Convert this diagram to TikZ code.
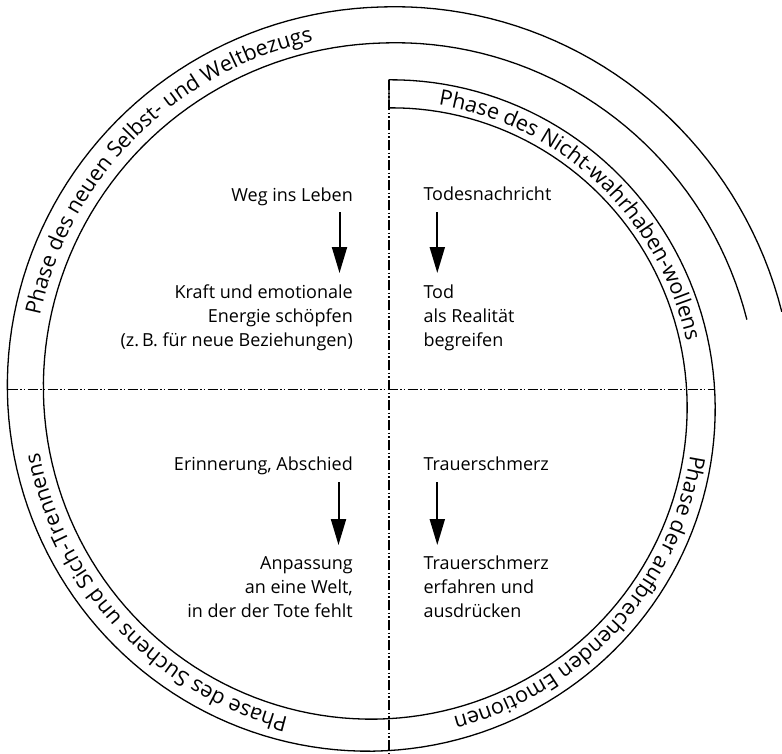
\documentclass[tikz,border=0pt]{standalone}
\usepackage{fontspec}
\setmainfont{Open Sans}
\usetikzlibrary{decorations.text,arrows.meta}
\newcommand\bandfont{\fontsize{21.5}{21.5}\selectfont}
\pgfmathdeclarefunction{spo}{1}{\pgfmathparse{317.25+18.25*#1/90+6*max(0,#1/90-4)}}
\pgfmathdeclarefunction{spi}{1}{\pgfmathparse{289.25+16.25*#1/90+6*max(0,#1/90-4)}}
\pgfmathdeclarefunction{spb}{1}{\pgfmathparse{303.25+17.25*#1/90-7.5}}
\begin{document}
\begin{tikzpicture}[x=1pt,y=1pt,
  edge/.style={line width=1.3pt,line join=round},
  axisline/.style={line width=1.1pt,dash pattern=on 10pt off 2.5pt on 1.5pt off 2pt on 1.5pt off 2.5pt},
  arr/.style={line width=2pt,-{Triangle[length=26pt,width=15pt]}},
  lbl/.style={inner sep=0pt,font=\fontsize{18}{24}\selectfont},
  bandtext/.style={decorate,decoration={text along path,text align=center,
     text={|\bandfont|#1}}}
]
\useasboundingbox (0,0) rectangle (782,-753);
% spiral band
\draw[edge] plot[domain=438:1.49,samples=220,variable=\t]
   ({381.5+spi(\t)*sin(\t)},{-397.25+spi(\t)*cos(\t)})
 -- plot[domain=1.72:438,samples=220,variable=\t]
   ({379.5+spo(\t)*sin(\t)},{-397.25+spo(\t)*cos(\t)});
% axes
\coordinate (hl) at (7.5,-389.5);
\coordinate (hr) at (715,-389.5);
\coordinate (vt) at (389,-80);
\coordinate (vb) at (389,-753);
\draw[axisline] (hl) -- (hr);
\draw[axisline] (vt) -- (vb);
% band texts
\path[bandtext={Phase des neuen Selbst- und Weltbezugs}] plot[domain=266:366,samples=100,variable=\t]
   ({380.5+spb(\t)*sin(\t)},{-397.25+spb(\t)*cos(\t)});
\path[bandtext={Phase des Nicht-wahrhaben-wollens}] plot[domain=-5:95,samples=100,variable=\t]
   ({380.5+spb(\t)*sin(\t)},{-397.25+spb(\t)*cos(\t)});
\path[bandtext={Phase der aufbrechenden Emotionen}] plot[domain=83.5:183.5,samples=100,variable=\t]
   ({380.5+spb(\t)*sin(\t)},{-397.25+spb(\t)*cos(\t)});
\path[bandtext={Phase des Suchens und Sich-Trennens}] plot[domain=178:278,samples=100,variable=\t]
   ({380.5+spb(\t)*sin(\t)},{-397.25+spb(\t)*cos(\t)});
% quadrant texts
\node[lbl,anchor=base east] (tl1) at (353,-201.7) {Weg ins Leben};
\node[lbl,anchor=base east,align=right] (tl2) at (353,-346.7) {Kraft und emotionale\\Energie schöpfen\\(z.\,B. für neue Beziehungen)};
\node[lbl,anchor=base west] (tr1) at (423.3,-200.5) {Todesnachricht};
\node[lbl,anchor=base west,align=left] (tr2) at (423.3,-346.5) {Tod\\als Realität\\begreifen};
\node[lbl,anchor=base east] (bl1) at (353,-470.7) {Erinnerung, Abschied};
\node[lbl,anchor=base east,align=right] (bl2) at (353,-617.5) {Anpassung\\an eine Welt,\\in der der Tote fehlt};
\node[lbl,anchor=base west] (br1) at (423.3,-470.7) {Trauerschmerz};
\node[lbl,anchor=base west,align=left] (br2) at (423.3,-617.5) {Trauerschmerz\\erfahren und\\ausdrücken};
% arrows
\coordinate (a1s) at (339.5,-212); \coordinate (a1e) at (339.5,-273);
\coordinate (a2s) at (437.3,-212); \coordinate (a2e) at (437.3,-273);
\coordinate (a3s) at (338.5,-482); \coordinate (a3e) at (338.5,-545);
\coordinate (a4s) at (437.3,-482); \coordinate (a4e) at (437.3,-545);
\draw[arr] (a1s) -- (a1e);
\draw[arr] (a2s) -- (a2e);
\draw[arr] (a3s) -- (a3e);
\draw[arr] (a4s) -- (a4e);
\end{tikzpicture}
\end{document}
